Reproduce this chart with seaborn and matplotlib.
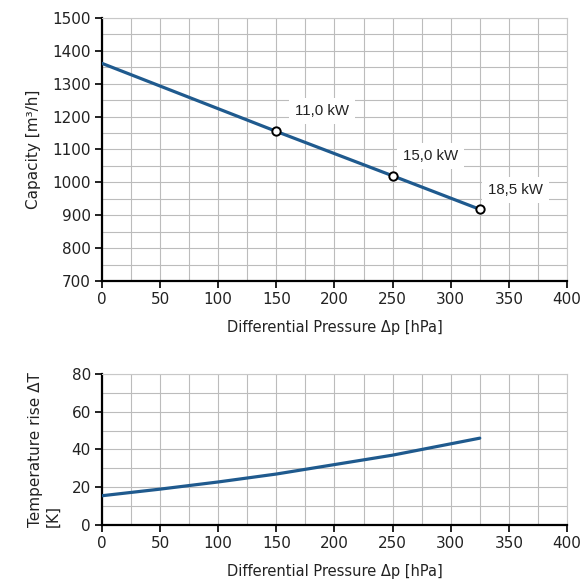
import matplotlib
matplotlib.use("Agg")
import matplotlib.pyplot as plt
from matplotlib.ticker import MultipleLocator
import seaborn as sns
import pandas as pd

# capacity curve
dp_cap = [0, 150, 250, 325]
capacity = [1362, 1155, 1020, 918]

# motor power points on the curve
dp_motor = [150, 250, 325]
cap_motor = [1155, 1020, 918]
motor_labels = ["11,0 kW", "15,0 kW", "18,5 kW"]

# temperature rise curve
dp_temp = [0, 50, 100, 150, 200, 250, 300, 325]
temp_rise = [15.5, 19.0, 22.8, 27.0, 32.0, 37.0, 43.0, 46.0]

LINE = "#1f5a8e"

sns.set_style("white")
plt.rcParams["font.family"] = ["DejaVu Sans"]

fig = plt.figure(figsize=(5.86, 5.86), dpi=100)
ax1 = fig.add_axes([0.174, 0.5205, 0.7935, 0.4488])
ax2 = fig.add_axes([0.174, 0.1041, 0.7935, 0.2577])

df_cap = pd.DataFrame({"dp": dp_cap, "cap": capacity})
df_temp = pd.DataFrame({"dp": dp_temp, "dt": temp_rise})

sns.lineplot(data=df_cap, x="dp", y="cap", ax=ax1, color=LINE, linewidth=2.3, zorder=3)
ax1.scatter(dp_motor, cap_motor, s=36, facecolor="white", edgecolor="black",
            linewidth=1.4, zorder=4)
offsets = [(33, 15), (27, 14), (26, 14)]
for x, y, lab, off in zip(dp_motor, cap_motor, motor_labels, offsets):
    ax1.annotate(lab, (x, y), xytext=off, textcoords="offset points",
                 ha="center", va="center", fontsize=10.8, family="Liberation Sans",
                 color="#222222",
                 bbox=dict(boxstyle="square,pad=0.4", facecolor="white", edgecolor="none"),
                 zorder=5)

sns.lineplot(data=df_temp, x="dp", y="dt", ax=ax2, color=LINE, linewidth=2.3, zorder=3)

ax1.set_ylim(700, 1500)
ax1.yaxis.set_major_locator(MultipleLocator(100))
ax1.yaxis.set_minor_locator(MultipleLocator(50))
ax2.set_ylim(0, 80)
ax2.yaxis.set_major_locator(MultipleLocator(20))
ax2.yaxis.set_minor_locator(MultipleLocator(10))

for ax in (ax1, ax2):
    ax.set_xlim(0, 400)
    ax.xaxis.set_major_locator(MultipleLocator(50))
    ax.xaxis.set_minor_locator(MultipleLocator(25))
    ax.grid(True, which="both", color="#bcbcbc", linewidth=0.8, zorder=0)
    ax.set_axisbelow(True)
    for s in ("top", "right"):
        ax.spines[s].set_color("#c8c8c8")
        ax.spines[s].set_linewidth(0.8)
    for s in ("left", "bottom"):
        ax.spines[s].set_color("black")
        ax.spines[s].set_linewidth(1.6)
    ax.tick_params(which="major", direction="out", length=5, width=1.4,
                   labelsize=11, colors="#222222", left=True, bottom=True, pad=3)
    ax.tick_params(which="minor", length=0)
    ax.set_xlabel("Differential Pressure Δp [hPa]", fontsize=10.5, labelpad=9,
                  color="#222222")

ax1.set_ylabel("Capacity [m³/h]", fontsize=11, labelpad=8, color="#222222")
ax2.set_ylabel("Temperature rise ΔT\n[K]", fontsize=11, labelpad=8, color="#222222",
               multialignment="left")

fig.savefig("out.png", dpi=100)
